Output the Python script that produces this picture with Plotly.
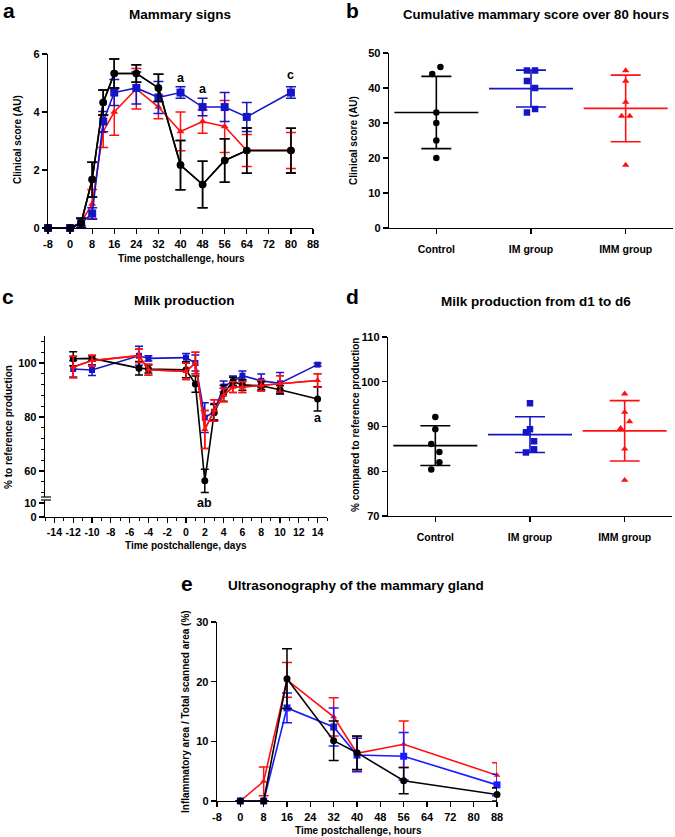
import numpy as np
import plotly.graph_objects as go

W, H = 675, 837
FONT = "Liberation Sans, Arial, Helvetica, sans-serif"
BLACK = "#000000"
BLUE = "#1414c8"
RED = "#ff1010"
BLUE_E = "#1a1aff"

# ---------------- Panel a: Mammary signs ----------------
a_hours = [-8, 0, 4, 8, 12, 16, 24, 32, 40, 48, 56, 64, 80]
a_ctrl = [0, 0, 0.17, 1.67, 4.33, 5.33, 5.33, 4.83, 2.17, 1.5, 2.33, 2.67, 2.67]
a_ctrl_err = [0, 0, 0.17, 0.6, 0.43, 0.5, 0.3, 0.47, 0.85, 0.8, 0.75, 0.78, 0.77]
a_im = [0, 0, 0.17, 0.5, 3.67, 4.67, 4.83, 4.5, 4.67, 4.17, 4.17, 3.83, 4.67]
a_im_err = [0, 0, 0.17, 0.2, 0.35, 0.45, 0.55, 0.55, 0.2, 0.3, 0.5, 0.5, 0.2]
a_imm = [0, 0, 0.2, 0.83, 3.33, 4.0, 4.8, 4.17, 3.33, 3.67, 3.5, 2.67, 2.67]
a_imm_err = [0, 0, 0.12, 0.5, 0.55, 0.8, 0.7, 0.4, 0.67, 0.4, 0.9, 0.55, 0.62]
hour_ticks = [-8, 0, 8, 16, 24, 32, 40, 48, 56, 64, 72, 80, 88]

# ---------------- Panel b: Cumulative mammary score ----------------
groups = ["Control", "IM group", "IMM group"]
b_ctrl = [46, 44, 33, 30, 25, 20]
b_im = [45, 45, 42, 40, 34, 33]
b_imm = [45, 42, 36, 32, 32, 18]
b_ctrl_spread = [1, -1, 0, 0, 0, 0]
b_im_spread = [-1, 1, -1, 1, 1, -1]
b_imm_spread = [0, 0, 0, -1, 1, 0]

# ---------------- Panel c: Milk production ----------------
c_days = [-12, -10, -5, -4, 0, 1, 2, 3, 4, 5, 6, 8, 10, 14]
c_ctrl = [101.6, 101.7, 98.1, 97.8, 97.5, 92.2, 56.4, 81.6, 88.8, 93.2, 91.9, 91.6, 90.1, 86.7]
c_ctrl_err = [2.6, 1.0, 2.5, 1.5, 3.0, 3.0, 4.3, 3.0, 3.0, 1.5, 2.0, 1.5, 1.5, 4.5]
c_im = [97.8, 97.4, 102.7, 101.7, 102.0, 100.0, 79.8, 82.0, 91.3, 93.2, 95.3, 93.4, 92.5, 99.4]
c_im_err = [3.0, 2.0, 3.5, 1.0, 1.5, 3.0, 5.5, 3.0, 2.0, 2.0, 1.7, 2.5, 4.0, 0.5]
c_imm = [98.5, 100.9, 102.7, 97.5, 96.9, 100.0, 75.4, 82.4, 88.2, 91.1, 91.1, 91.6, 92.3, 93.5]
c_imm_err = [4.0, 2.0, 2.5, 2.0, 3.0, 4.0, 7.0, 4.0, 2.5, 2.0, 2.0, 2.0, 3.0, 2.5]
day_ticks = [-14, -12, -10, -8, -6, -4, -2, 0, 2, 4, 6, 8, 10, 12, 14]

# ---------------- Panel d: Milk production d1-d6 ----------------
d_ctrl = [92.1, 89.4, 86.1, 84.3, 82.0, 80.4]
d_im = [95.2, 89.4, 88.7, 86.7, 84.9, 84.2]
d_imm = [97.3, 93.2, 91.1, 89.6, 85.0, 78.0]
d_ctrl_spread = [0, 0, -1, 1, 1, -1]
d_im_spread = [0, 0, -1, 1, 1, -1]
d_imm_spread = [0, 0, 1.2, -1, 0, 0]

# ---------------- Panel e: Ultrasonography ----------------
e_hours = [0, 8, 16, 32, 40, 56, 88]
e_ctrl = [0, 0, 20.5, 10.1, 8.1, 3.4, 1.1]
e_ctrl_err = [0, 0, 5.0, 3.3, 2.8, 2.2, 1.1]
e_im = [0, 0, 15.6, 12.4, 7.7, 7.5, 2.7]
e_im_err = [0, 0, 2.5, 3.2, 2.8, 4.0, 1.8]
e_imm = [0, 3.3, 20.3, 14.1, 8.0, 9.5, 4.3]
e_imm_err = [0, 2.4, 2.9, 3.2, 2.8, 3.9, 2.1]


def px_x(p):
    return p / W


def px_y(p):
    return 1 - p / H


fig = go.Figure()


def line_trace(x, y, err, color, symbol, size, xa, ya, cap=5):
    fig.add_trace(go.Scatter(
        x=x, y=y, mode="lines+markers", xaxis=xa, yaxis=ya,
        line=dict(color=color, width=1.6),
        marker=dict(color=color, symbol=symbol, size=size, line=dict(width=0)),
        error_y=dict(type="data", array=err, visible=True, color=color,
                     thickness=1.5, width=cap),
        cliponaxis=False, showlegend=False, hoverinfo="skip"))


# Panel a
line_trace(a_hours, a_ctrl, a_ctrl_err, BLACK, "circle", 7.5, "x", "y")
line_trace(a_hours, a_imm, a_imm_err, RED, "triangle-up", 7, "x", "y")
line_trace(a_hours, a_im, a_im_err, BLUE, "square", 8, "x", "y")
line_trace(a_hours, a_ctrl, a_ctrl_err, BLACK, "circle", 7.5, "x", "y")

# Panel c (empty helper trace so the lower broken-axis segment exists)
fig.add_trace(go.Scatter(x=[None], y=[None], xaxis="x3", yaxis="y3",
                         mode="markers", showlegend=False, hoverinfo="skip"))
line_trace(c_days, c_im, c_im_err, BLUE, "square", 6, "x3", "y4", cap=4)
line_trace(c_days, c_imm, c_imm_err, RED, "triangle-up", 6, "x3", "y4", cap=4)
line_trace(c_days, c_ctrl, c_ctrl_err, BLACK, "circle", 7, "x3", "y4", cap=4)
line_trace(c_days, c_imm, c_imm_err, RED, "triangle-up", 6, "x3", "y4", cap=4)

# Panel e
line_trace(e_hours, e_imm, e_imm_err, RED, "triangle-up", 6, "x5", "y6", cap=5)
line_trace(e_hours, e_im, e_im_err, BLUE_E, "square", 7, "x5", "y6", cap=5)
line_trace(e_hours, e_ctrl, e_ctrl_err, BLACK, "circle", 7, "x5", "y6", cap=5)

SPREAD = 0.043


def dot_group(idx, vals, spread, color, symbol, size, xa, ya):
    vals = np.array(vals, dtype=float)
    xs = idx + SPREAD * np.array(spread, dtype=float)
    mean = vals.mean()
    sd = vals.std(ddof=1)
    fig.add_trace(go.Scatter(
        x=[idx], y=[mean], mode="markers", xaxis=xa, yaxis=ya,
        marker=dict(symbol="line-ew", size=60, color=color,
                    line=dict(color=color, width=1.6)),
        error_y=dict(type="data", array=[sd], visible=True, color=color,
                     thickness=1.6, width=15),
        cliponaxis=False, showlegend=False, hoverinfo="skip"))
    fig.add_trace(go.Scatter(
        x=xs, y=vals, mode="markers", xaxis=xa, yaxis=ya,
        marker=dict(symbol=symbol, size=size, color=color, line=dict(width=0)),
        cliponaxis=False, showlegend=False, hoverinfo="skip"))


dot_group(0, b_ctrl, b_ctrl_spread, BLACK, "circle", 6.5, "x2", "y2")
dot_group(1, b_im, b_im_spread, BLUE, "square", 6.5, "x2", "y2")
dot_group(2, b_imm, b_imm_spread, RED, "triangle-up", 6.5, "x2", "y2")

dot_group(0, d_ctrl, d_ctrl_spread, BLACK, "circle", 6.5, "x4", "y5")
dot_group(1, d_im, d_im_spread, BLUE, "square", 6.5, "x4", "y5")
dot_group(2, d_imm, d_imm_spread, RED, "triangle-up", 6.5, "x4", "y5")

TICKFONT = dict(family=FONT, size=11, color="black", weight="bold")
base = dict(showline=True, linecolor="black", linewidth=1.3, ticks="outside",
            ticklen=5, tickwidth=1.3, tickcolor="black", showgrid=False,
            zeroline=False, tickfont=TICKFONT, fixedrange=True,
            automargin=False, tickangle=0)

hour_text = [str(v) for v in hour_ticks]
day_text = [str(v) for v in day_ticks]

lay = dict(
    width=W, height=H,
    margin=dict(l=0, r=0, t=0, b=0, pad=0, autoexpand=False),
    paper_bgcolor="white", plot_bgcolor="white", showlegend=False,
    font=dict(family=FONT, color="black"),
    # a
    xaxis=dict(base, domain=[px_x(48), px_x(313)], range=[-8, 88],
               tickvals=hour_ticks, ticktext=hour_text, anchor="y"),
    yaxis=dict(base, domain=[px_y(228), px_y(54)], range=[0, 6],
               tickvals=[0, 2, 4, 6], anchor="x"),
    # b
    xaxis2=dict(base, domain=[px_x(389), px_x(673)], range=[-0.5, 2.5],
                tickvals=[0, 1, 2], ticktext=groups, anchor="y2",
                ticklabelstandoff=6, tickfont=dict(TICKFONT, size=10.5)),
    yaxis2=dict(base, domain=[px_y(228), px_y(53)], range=[0, 50],
                dtick=10, anchor="x2"),
    # c
    xaxis3=dict(base, domain=[px_x(45), px_x(327)], range=[-15, 15],
                tickvals=day_ticks, ticktext=day_text, anchor="y3",
                tickfont=dict(TICKFONT, size=10.5),
                minor=dict(dtick=1, ticklen=2.5, tickwidth=1, tickcolor="black",
                           ticks="outside")),
    yaxis3=dict(base, domain=[px_y(517), px_y(500)], range=[0, 12.1],
                tickvals=[0, 10], anchor="x3"),
    yaxis4=dict(base, domain=[px_y(497), px_y(336)], range=[50.4, 110],
                tickvals=[60, 80, 100], anchor="x3",
                minor=dict(tick0=0, dtick=4, ticklen=2.5, tickwidth=1,
                           tickcolor="black", ticks="outside")),
    # d
    xaxis4=dict(base, domain=[px_x(388), px_x(672)], range=[-0.5, 2.5],
                tickvals=[0, 1, 2], ticktext=groups, anchor="y5",
                ticklabelstandoff=6, tickfont=dict(TICKFONT, size=10.5)),
    yaxis5=dict(base, domain=[px_y(516), px_y(337)], range=[70, 110],
                dtick=10, anchor="x4"),
    # e
    xaxis5=dict(base, domain=[px_x(217), px_x(497)], range=[-8, 88],
                tickvals=hour_ticks, ticktext=hour_text, anchor="y6"),
    yaxis6=dict(base, domain=[px_y(801), px_y(622)], range=[0, 30],
                dtick=10, anchor="x5"),
)
fig.update_layout(**lay)

anns = []


def txt(text, x, y, size, angle=0, xanchor="center", yanchor="middle"):
    anns.append(dict(text=text, x=px_x(x), y=px_y(y), xref="paper", yref="paper",
                     showarrow=False, textangle=angle, xanchor=xanchor,
                     yanchor=yanchor,
                     font=dict(family=FONT, size=size, color="black",
                               weight="bold")))


# panel letters
txt("a", 1, 10, 21, xanchor="left")
txt("b", 344, 10, 21, xanchor="left")
txt("c", 0, 296, 21, xanchor="left")
txt("d", 344, 296, 21, xanchor="left")
txt("e", 179, 583, 21, xanchor="left")

# titles
txt("Mammary signs", 180, 14, 13.5)
txt("Cumulative mammary score over 80 hours", 536, 14, 13.2)
txt("Milk production", 184, 300, 13.5)
txt("Milk production from d1 to d6", 536, 301, 13.5)
txt("Ultrasonography of the mammary gland", 356, 585, 13.5)

# axis titles
txt("Time postchallenge, hours", 181, 258, 10)
txt("Clinical score (AU)", 17, 140, 10, angle=-90)
txt("Clinical score (AU)", 353, 141, 10, angle=-90)
txt("Time postchallenge, days", 186, 545, 10)
txt("% to reference production", 8, 427, 10, angle=-90)
txt("% compared to reference production", 355, 425, 10, angle=-90)
txt("Time postchallenge, hours", 359, 830, 10)
txt("Inflammatory area / Total scanned area (%)", 185, 712, 10, angle=-90)

# significance letters
sig = [("a", "x", "y", 40, 5.17), ("a", "x", "y", 48, 4.8), ("c", "x", "y", 80, 5.28),
       ("a", "x3", "y4", 14, 79.5)]
for t, xr, yr, xv, yv in sig:
    anns.append(dict(text=t, x=xv, y=yv, xref=xr, yref=yr, showarrow=False,
                     font=dict(family=FONT, size=12.5, color="black", weight="bold")))
anns.append(dict(text="ab", x=2, y=px_y(503), xref="x3", yref="paper",
                 showarrow=False,
                 font=dict(family=FONT, size=12.5, color="black", weight="bold")))

fig.update_layout(annotations=anns)

# axis break marks on panel c
shapes = []
for yy in (497, 500):
    shapes.append(dict(type="line", xref="paper", yref="paper",
                       x0=px_x(41), x1=px_x(51), y0=px_y(yy), y1=px_y(yy),
                       line=dict(color="black", width=1.2)))
fig.update_layout(shapes=shapes)

fig.write_html(
    "out.html",
    config={"displayModeBar": False, "staticPlot": True},
    post_script="document.body.style.margin='0';document.body.style.overflow='hidden';",
)
